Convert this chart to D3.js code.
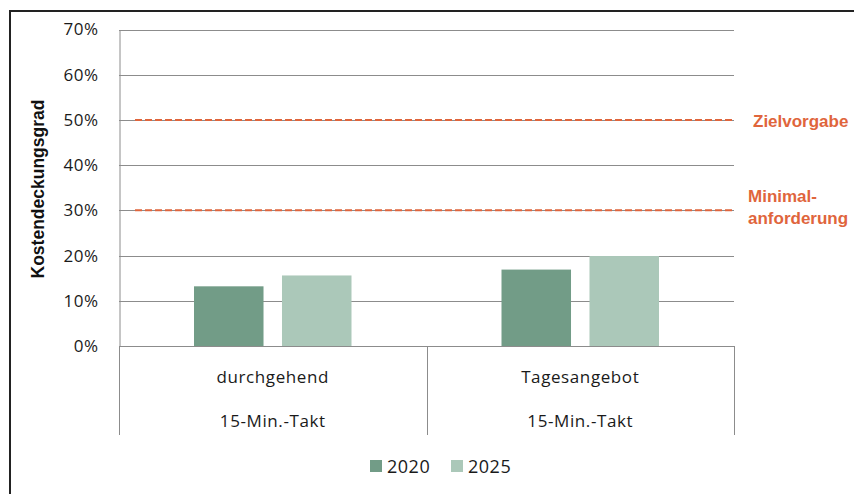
<!DOCTYPE html>
<html>
<head>
<meta charset="utf-8">
<script src="https://cdn.jsdelivr.net/npm/d3@7"></script>
<style>
  body { margin: 0; background: #fff; }
  svg { font-family: "Open Sans", "Liberation Sans", sans-serif; }
</style>
</head>
<body>
<script>
//chart data
var categories = ["durchgehend", "Tagesangebot"];
var subLabels = ["15-Min.-Takt", "15-Min.-Takt"];
var seriesNames = ["2020", "2025"];
var values2020 = [0.132, 0.169];
var values2025 = [0.156, 0.199];
var yTicks = [0, 0.1, 0.2, 0.3, 0.4, 0.5, 0.6, 0.7];
var refValues = [0.5, 0.3];
var refLabels = [["Zielvorgabe"], ["Minimal-", "anforderung"]];

(function(){

  var colors = ["#729c87", "#abc8b9"];
  var refColor = "#e0653c";
  var textColor = "#1a1a1a";

  var width = 854, height = 494;
  var svg = d3.select("body").append("svg")
      .attr("width", width)
      .attr("height", height);

  //outer frame (only top and left visible)
  svg.append("rect")
      .attr("x", 10).attr("y", 11)
      .attr("width", 900).attr("height", 600)
      .attr("fill", "none")
      .attr("stroke", "#222")
      .attr("stroke-width", 2);

  var plotLeft = 119, plotRight = 734, plotTop = 29.5, plotBottom = 346;

  var y = d3.scaleLinear().domain([0, 0.7]).range([plotBottom, plotTop]);
  var x0 = d3.scaleBand().domain(categories).range([plotLeft, plotRight]);
  var x1 = d3.scaleBand().domain(seriesNames)
      .range([75, x0.bandwidth() - 75])
      .paddingInner(0.21);

  //gridlines
  svg.append("g").selectAll("line")
      .data(yTicks.slice(1))
      .enter().append("line")
      .attr("x1", plotLeft).attr("x2", plotRight)
      .attr("y1", function(d){ return Math.round(y(d)) + 0.5; })
      .attr("y2", function(d){ return Math.round(y(d)) + 0.5; })
      .attr("stroke", "#8c8c8c")
      .attr("stroke-width", 1);

  //y axis
  var yAxis = d3.axisLeft(y)
      .tickValues(yTicks)
      .tickFormat(d3.format(".0%"))
      .tickSize(0)
      .tickPadding(21);
  var yg = svg.append("g")
      .attr("transform", "translate(" + (plotLeft + 0.5) + ",0)")
      .call(yAxis);
  yg.select(".domain").attr("stroke", "#8c8c8c");
  yg.selectAll("text")
      .attr("font-size", 17)
      .attr("letter-spacing", 0.5)
      .attr("fill", textColor)
      .attr("font-family", "Open Sans, sans-serif");

  //bars
  var data = categories.map(function(c, i){
      return { cat: c, vals: [values2020[i], values2025[i]] };
  });
  var groups = svg.append("g").selectAll("g")
      .data(data)
      .enter().append("g")
      .attr("transform", function(d){ return "translate(" + x0(d.cat) + ",0)"; });
  groups.selectAll("rect")
      .data(function(d){ return d.vals.map(function(v, i){ return { s: seriesNames[i], v: v, i: i }; }); })
      .enter().append("rect")
      .attr("x", function(d){ return x1(d.s); })
      .attr("width", x1.bandwidth())
      .attr("y", function(d){ return y(d.v); })
      .attr("height", function(d){ return plotBottom - y(d.v); })
      .attr("fill", function(d){ return colors[d.i]; });

  //category axis (baseline and dividers)
  svg.append("line")
      .attr("x1", plotLeft).attr("x2", plotRight)
      .attr("y1", plotBottom + 0.5).attr("y2", plotBottom + 0.5)
      .attr("stroke", "#8c8c8c");
  var dividers = [plotLeft].concat(categories.map(function(c){ return x0(c) + x0.bandwidth(); }));
  svg.append("g").selectAll("line")
      .data(dividers)
      .enter().append("line")
      .attr("x1", function(d){ return Math.round(d) + 0.5; })
      .attr("x2", function(d){ return Math.round(d) + 0.5; })
      .attr("y1", plotBottom).attr("y2", 435)
      .attr("stroke", "#8c8c8c");

  svg.append("g").selectAll("text")
      .data(categories)
      .enter().append("text")
      .attr("x", function(d){ return x0(d) + x0.bandwidth() / 2; })
      .attr("y", 383)
      .attr("text-anchor", "middle")
      .attr("font-size", 17)
      .attr("letter-spacing", 0.6)
      .attr("fill", textColor)
      .text(function(d){ return d; });
  svg.append("g").selectAll("text")
      .data(subLabels)
      .enter().append("text")
      .attr("x", function(d, i){ return x0(categories[i]) + x0.bandwidth() / 2; })
      .attr("y", 427)
      .attr("text-anchor", "middle")
      .attr("font-size", 17)
      .attr("letter-spacing", 0.6)
      .attr("fill", textColor)
      .text(function(d){ return d; });

  //reference lines
  svg.append("g").selectAll("line")
      .data(refValues)
      .enter().append("line")
      .attr("x1", 135).attr("x2", plotRight)
      .attr("y1", function(d){ return y(d); })
      .attr("y2", function(d){ return y(d); })
      .attr("stroke", refColor)
      .attr("stroke-width", 2)
      .attr("stroke-dasharray", "7,3");

  var refText = svg.append("g").selectAll("text")
      .data(refValues)
      .enter().append("text")
      .attr("y", function(d, i){ return i == 0 ? y(d) + 7 : y(d) - 8; })
      .attr("font-size", 17)
      .attr("font-weight", "bold")
      .attr("font-family", "Liberation Sans, Arial, sans-serif")
      .attr("fill", refColor);
  refText.selectAll("tspan")
      .data(function(d, i){ return refLabels[i]; })
      .enter().append("tspan")
      .attr("x", function(d, i){ return i == 0 && d == "Zielvorgabe" ? 753 : 748; })
      .attr("dy", function(d, i){ return i == 0 ? 0 : 22; })
      .text(function(d){ return d; });

  //y axis title
  svg.append("text")
      .attr("transform", "translate(44,189) rotate(-90)")
      .attr("text-anchor", "middle")
      .attr("font-size", 17.5)
      .attr("font-weight", "bold")
      .attr("font-family", "Liberation Sans, Arial, sans-serif")
      .attr("fill", "#111")
      .text("Kostendeckungsgrad");

  //legend
  var legend = svg.append("g").selectAll("g")
      .data(seriesNames)
      .enter().append("g")
      .attr("transform", function(d, i){ return "translate(" + (370 + i * 81) + ",460)"; });
  legend.append("rect")
      .attr("width", 12).attr("height", 12)
      .attr("fill", function(d, i){ return colors[i]; });
  legend.append("text")
      .attr("x", 17).attr("y", 13)
      .attr("font-size", 18)
      .attr("letter-spacing", 0.5)
      .attr("fill", textColor)
      .text(function(d){ return d; });

})();
</script>
</body>
</html>
